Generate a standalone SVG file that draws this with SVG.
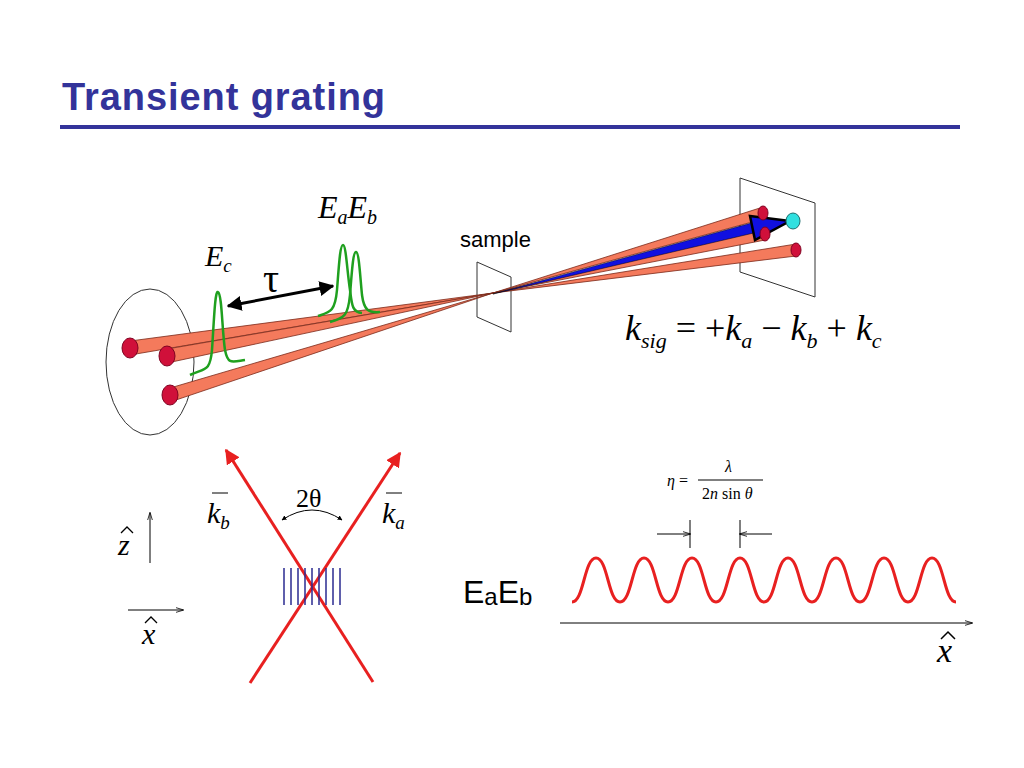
<svg xmlns="http://www.w3.org/2000/svg" width="1024" height="768" viewBox="0 0 1024 768">
<style>
.m{font-family:"Liberation Serif",serif;font-style:italic}
.s{font-family:"Liberation Sans",Arial,sans-serif}
.beam{fill:#f47a5c;stroke:#7a2a1a;stroke-width:0.8}
.dot{fill:#d0103a;stroke:#800020;stroke-width:1}
.g{fill:none;stroke:#1fa01f;stroke-width:2.5}
</style>
<defs>
<marker id="ah" viewBox="0 0 10 10" refX="9" refY="5" markerWidth="5" markerHeight="5" orient="auto-start-reverse"><path d="M0,0L10,5L0,10z" fill="#000"/></marker>
<marker id="rh" viewBox="0 0 10 10" refX="9" refY="5" markerWidth="5" markerHeight="5" orient="auto"><path d="M0,0L10,5L0,10z" fill="#e82020"/></marker>
<marker id="sa" viewBox="0 0 10 10" refX="9" refY="5" markerWidth="8" markerHeight="8" orient="auto"><path d="M0,2L10,5L0,8" fill="none" stroke="#000"/></marker>
</defs>
<rect width="1024" height="768" fill="#fff"/>
<text x="62" y="110" class="s" font-size="38" font-weight="bold" fill="#33339a" textLength="323">Transient grating</text>
<rect x="60" y="125" width="900" height="4" fill="#33339a"/>

<g id="source"><ellipse cx="150" cy="362" rx="44" ry="73" fill="none" stroke="#333" stroke-width="1"/></g>
<g id="sample"><path d="M477,262L511,277L511,332L477,317z" fill="#fff" stroke="#333"/>
<text x="460" y="247" class="s" font-size="22">sample</text></g>
<g id="screen"><path d="M740,178L815,203L815,297L740,272z" fill="#fff" stroke="#333"/></g>

<g id="connectors">
<path class="beam" d="M130,341L493,293L130,355z"/>
<path class="beam" d="M167,349L493,293L167,363z"/>
<path class="beam" d="M170,388L493,293L170,402z"/>
<path class="beam" d="M493,293L763,207L763,219z"/>
<path class="beam" d="M493,293L765,228L765,240z"/>
<path class="beam" d="M493,293L796,244L796,256z"/>
<path d="M493,294L755,222L758,232z" fill="#1010e0" stroke="#000" stroke-width="0.5"/>
<path d="M750,216L790,221L755,240z" fill="#1010e0" stroke="#000" stroke-width="2.5"/>
<line x1="228" y1="306" x2="333" y2="286" stroke="#000" stroke-width="3" marker-start="url(#ah)" marker-end="url(#ah)"/>
<line x1="250" y1="683" x2="400" y2="453" stroke="#e82020" stroke-width="3" marker-end="url(#rh)"/>
<line x1="373" y1="682" x2="226" y2="450" stroke="#e82020" stroke-width="3" marker-end="url(#rh)"/>
<path d="M282,520Q312,500 342,520" fill="none" stroke="#000" marker-start="url(#ah)" marker-end="url(#ah)"/>
<line x1="150" y1="563" x2="150" y2="513" stroke="#000" marker-end="url(#sa)"/>
<line x1="128" y1="610" x2="183" y2="610" stroke="#000" marker-end="url(#sa)"/>
<line x1="560" y1="623" x2="972" y2="623" stroke="#000" marker-end="url(#sa)"/>
<line x1="657" y1="534" x2="690" y2="534" stroke="#000" marker-end="url(#sa)"/>
<line x1="772" y1="534" x2="740" y2="534" stroke="#000" marker-end="url(#sa)"/>
<line x1="690" y1="520" x2="690" y2="548" stroke="#000"/>
<line x1="740" y1="520" x2="740" y2="548" stroke="#000"/>
</g>

<g id="dots">
<ellipse class="dot" cx="130" cy="348" rx="8" ry="10"/>
<ellipse class="dot" cx="167" cy="356" rx="8" ry="10"/>
<ellipse class="dot" cx="170" cy="395" rx="8" ry="10"/>
<ellipse class="dot" cx="763" cy="213" rx="5" ry="7"/>
<ellipse class="dot" cx="765" cy="234" rx="5" ry="7"/>
<ellipse class="dot" cx="796" cy="250" rx="5" ry="7"/>
<ellipse cx="793" cy="221" rx="7" ry="8" fill="#30e0e0" stroke="#207070"/>
</g>

<g id="pulses">
<path class="g" d="M190,375C205,368 210,372 212,350C214,320 215,290 218,292C222,294 222,330 225,350C228,365 232,362 245,360"/>
<path class="g" d="M318,316C330,312 335,312 337,290C339,265 340,245 343,245C346,245 347,270 350,290C352,305 352,312 362,313"/>
<path class="g" d="M330,322C345,318 348,315 350,295C352,270 353,252 356,252C359,252 360,275 362,295C364,310 368,313 380,312"/>
</g>

<g id="labels">
<text x="205" y="266" class="m" font-size="30">E<tspan font-size="19" dy="6">c</tspan></text>
<text x="318" y="218" class="m" font-size="32">E<tspan font-size="20" dy="6">a</tspan><tspan dy="-6">E</tspan><tspan font-size="20" dy="6">b</tspan></text>
<text x="263" y="292" font-family="Liberation Serif,serif" font-size="40">τ</text>
<text x="625" y="340" class="m" font-size="36">k<tspan font-size="22" dy="8">sig</tspan><tspan dy="-8" font-style="normal"> = +</tspan>k<tspan font-size="22" dy="8">a</tspan><tspan dy="-8" font-style="normal"> − </tspan>k<tspan font-size="22" dy="8">b</tspan><tspan dy="-8" font-style="normal"> + </tspan>k<tspan font-size="22" dy="8">c</tspan></text>
<text x="207" y="523" class="m" font-size="30">k<tspan font-size="19" dy="6">b</tspan></text>
<line x1="212" y1="493" x2="228" y2="493" stroke="#000"/>
<text x="382" y="523" class="m" font-size="30">k<tspan font-size="19" dy="6">a</tspan></text>
<line x1="386" y1="493" x2="402" y2="493" stroke="#000"/>
<text x="296" y="507" font-family="Liberation Serif,serif" font-size="26">2θ</text>
<text x="118" y="555" class="m" font-size="30">z</text><path d="M121,533L127,527L133,533" fill="none" stroke="#000" stroke-width="1.3"/>
<text x="142" y="644" class="m" font-size="30">x</text><path d="M145,623L151,617L157,623" fill="none" stroke="#000" stroke-width="1.3"/>
<text x="937" y="662" class="m" font-size="34">x</text><path d="M941,639L948,632L955,639" fill="none" stroke="#000" stroke-width="1.5"/>
<text x="463" y="603" class="s" font-size="32">E<tspan font-size="24" dy="2">a</tspan><tspan dy="-2">E</tspan><tspan font-size="24" dy="2">b</tspan></text>
<text x="667" y="486" class="m" font-size="16">η <tspan font-style="normal">=</tspan></text>
<line x1="698" y1="480" x2="763" y2="480" stroke="#000"/>
<text x="725" y="472" class="m" font-size="16">λ</text>
<text x="702" y="499" font-family="Liberation Serif,serif" font-size="16">2<tspan font-style="italic">n</tspan> sin <tspan font-style="italic">θ</tspan></text>
</g>

<g id="grating" stroke="#2a2a90" stroke-width="1.5">
<line x1="284" y1="568" x2="284" y2="605"/><line x1="291" y1="568" x2="291" y2="605"/><line x1="298" y1="568" x2="298" y2="605"/><line x1="305" y1="568" x2="305" y2="605"/><line x1="312" y1="568" x2="312" y2="605"/><line x1="319" y1="568" x2="319" y2="605"/><line x1="326" y1="568" x2="326" y2="605"/><line x1="333" y1="568" x2="333" y2="605"/><line x1="340" y1="568" x2="340" y2="605"/>
</g>
<g id="wave"><path d="M572,602C584,602 584,558 596,558C608,558 608,602 620,602C632,602 632,558 644,558C656,558 656,602 668,602C680,602 680,558 692,558C704,558 704,602 716,602C728,602 728,558 740,558C752,558 752,602 764,602C776,602 776,558 788,558C800,558 800,602 812,602C824,602 824,558 836,558C848,558 848,602 860,602C872,602 872,558 884,558C896,558 896,602 908,602C920,602 920,558 932,558C944,558 944,602 956,602" fill="none" stroke="#e82020" stroke-width="3"/></g>
</svg>
